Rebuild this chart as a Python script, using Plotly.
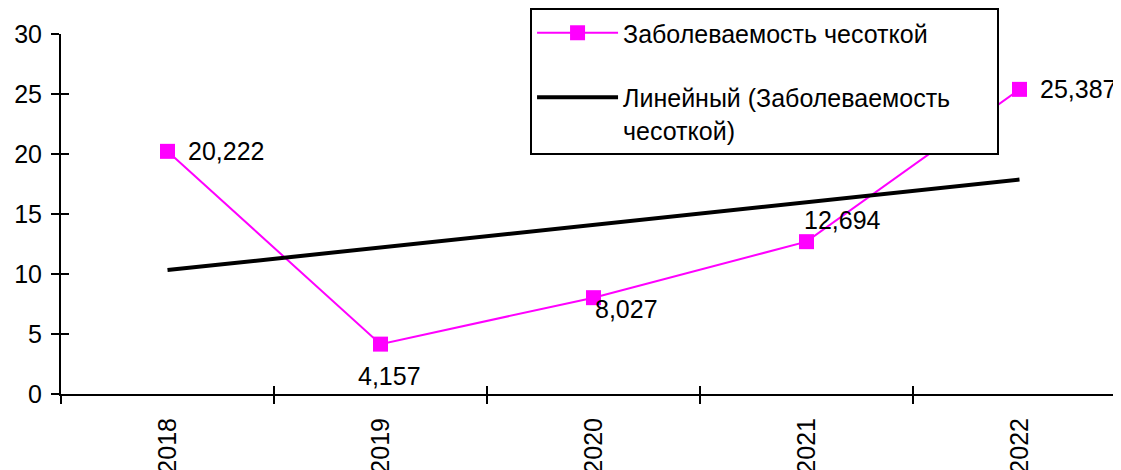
import numpy as np
import plotly.graph_objects as go

years = ["2018", "2019", "2020", "2021", "2022"]
values = [20.222, 4.157, 8.027, 12.694, 25.387]
value_labels = ["20,222", "4,157", "8,027", "12,694", "25,387"]
y_ticks = [0, 5, 10, 15, 20, 25, 30]
series_name = "Заболеваемость чесоткой"
trend_name = "Линейный (Заболеваемость" + "\u00a0" * 6 + "<br>чесоткой)"

# label placement styles (anchor, pixel shifts) per point
label_xanchor = ["left", "center", "left", "left", "left"]
label_xshift = [18, 9, -1, -5, 18]
label_yshift = [0, -32, -11, 22, 0]

idx = np.arange(len(years))
slope, intercept = np.polyfit(idx, values, 1)
trend_x = [idx[0], idx[-1]]
trend_y = [intercept + slope * idx[0], intercept + slope * idx[-1]]
boundaries = [i - 0.5 for i in idx]

FONT = "Arial, Liberation Sans, sans-serif"
FS = 25
fig = go.Figure()
fig.add_trace(go.Scatter(
    x=idx, y=values, mode="lines+markers", name=series_name,
    line=dict(color="#FF00FF", width=2),
    marker=dict(symbol="square", size=15, color="#FF00FF"),
    legendgroup="a", cliponaxis=False, hoverinfo="skip",
))
fig.add_trace(go.Scatter(
    x=trend_x, y=trend_y, mode="lines", name=trend_name,
    line=dict(color="black", width=4), legendgroup="b", hoverinfo="skip",
))
# invisible helper traces so the overlay axes (crossing ticks, year labels) render
fig.add_trace(go.Scatter(x=idx, y=values, xaxis="x2", yaxis="y2", mode="markers",
                         marker=dict(opacity=0), showlegend=False, hoverinfo="skip"))
fig.add_trace(go.Scatter(x=idx, y=values, xaxis="x3", yaxis="y", mode="markers",
                         marker=dict(opacity=0), showlegend=False, hoverinfo="skip"))

for i in range(len(years)):
    fig.add_annotation(
        x=idx[i], y=values[i], xref="x", yref="y", text=value_labels[i],
        showarrow=False, xanchor=label_xanchor[i], yanchor="middle",
        xshift=label_xshift[i], yshift=label_yshift[i],
        font=dict(size=FS, family=FONT, color="black"),
    )

xr = [-0.5, 4.4765]
fig.update_layout(
    width=1113, height=462,
    margin=dict(l=53, r=0, t=26, b=76, autoexpand=False),
    paper_bgcolor="white", plot_bgcolor="white",
    font=dict(family=FONT, size=FS, color="black"),
    showlegend=True,
    legend=dict(
        x=0.4425, y=1.0722, xanchor="left", yanchor="top",
        bgcolor="white", bordercolor="black", borderwidth=2,
        font=dict(size=FS, family=FONT, color="black"),
        tracegroupgap=29, valign="top", itemwidth=81,
    ),
    xaxis=dict(
        range=xr, autorange=False, tickmode="array", tickvals=boundaries,
        showticklabels=False, ticks="outside", ticklen=8, tickwidth=2,
        tickcolor="black", showline=True, linecolor="black", linewidth=2,
        showgrid=False, zeroline=False,
    ),
    xaxis2=dict(
        overlaying="x", anchor="y2", side="bottom",
        range=xr, autorange=False, tickmode="array", tickvals=boundaries,
        showticklabels=False, ticks="inside", ticklen=8, tickwidth=2,
        tickcolor="black", showline=False, showgrid=False, zeroline=False,
    ),
    xaxis3=dict(
        overlaying="x", anchor="y", side="bottom",
        range=xr, autorange=False, tickmode="array", tickvals=list(idx),
        ticktext=years, tickangle=-90, ticks="", ticklabelstandoff=18,
        tickfont=dict(size=FS, family=FONT, color="black"),
        showline=False, showgrid=False, zeroline=False,
    ),
    yaxis=dict(
        range=[0, 30], autorange=False, tickmode="array", tickvals=y_ticks,
        ticks="outside", ticklen=8, tickwidth=2, tickcolor="black",
        showline=True, linecolor="black", linewidth=2,
        showgrid=False, zeroline=False, ticklabelstandoff=4,
        tickfont=dict(size=FS, family=FONT, color="black"),
    ),
    yaxis2=dict(
        overlaying="y", anchor="x2", side="left",
        range=[0, 30], autorange=False, tickmode="array", tickvals=y_ticks,
        ticks="inside", ticklen=8, tickwidth=2, tickcolor="black",
        showticklabels=False, showline=False, showgrid=False, zeroline=False,
    ),
)
fig.write_html("out.html")
